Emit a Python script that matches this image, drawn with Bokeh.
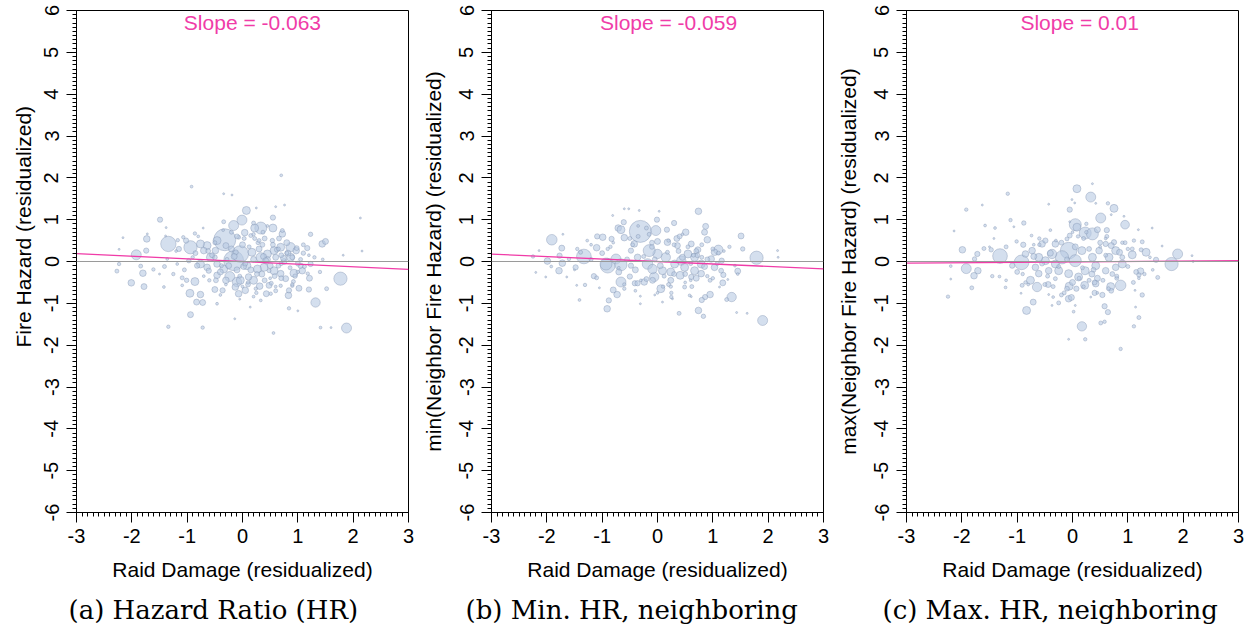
import numpy as np
from bokeh.plotting import figure
from bokeh.models import Range1d, SingleIntervalTicker, Span, Title, ColumnDataSource, PrintfTickFormatter
from bokeh.layouts import row
from bokeh.embed import file_html
from bokeh.resources import INLINE
from bokeh.core.properties import value

# ---------------- data ----------------
x_label = "Raid Damage (residualized)"
y_labels = ["Fire Hazard (residualized)",
            "min(Neighbor Fire Hazard) (residualized)",
            "max(Neighbor Fire Hazard) (residualized)"]
captions = ["(a) Hazard Ratio (HR)", "(b) Min. HR, neighboring", "(c) Max. HR, neighboring"]
slopes = [-0.063, -0.059, 0.01]
intercepts = [0.0, 0.0, -0.01]
slope_texts = ["Slope = -0.063", "Slope = -0.059", "Slope = 0.01"]
x_min, x_max = -3, 3
y_min, y_max = -6, 6

# panel (a): x, y, weight
a_x = [-1.34, -1.92, -0.94, -0.32, -0.16, -0.04, 0.07, -0.01, -0.16, 0.33, 0.22, 0.55, 0.04, -1.49, -1.73,
       -1.74, -2.01, -1.78, -1.80, -2.27, -2.23, -1.84, -0.86, -0.94, -0.72, -0.83, -0.72, -0.76, -0.95, -1.34,
       -1.01, -1.09, -1.42, -0.50, -0.36, -0.23, -0.10, -0.07, 0.05, 0.20, 0.31, 0.43, 0.48, 0.56, -0.14,
       0.83, 0.84, 0.84, 1.00, 1.02, 1.20, 1.21, 1.08, 0.93, 1.32, 1.52, 1.77, 1.88, 1.41, 1.60,
       1.44, 1.50, 1.17, 1.23, 2.13, 2.16, 1.82, 0.70, -0.92, -0.34, -0.19, 0.55, 0.76, 0.60, 0.25,
       0.72, 0.87, 0.97, 0.87, 0.69, 0.57, 0.45, 0.33, 0.17, 0.08, 0.39, 0.57, 0.27, -0.46, -0.64,
       -0.76, -0.70, -0.58, -0.76, -0.64, -0.46, -0.34, -0.49, -1.15, -1.02, -0.86, -0.34, 0.20, 0.03, -0.07,
       0.37, 0.72, 0.54, 1.23, 1.05, 0.78, 0.69, -0.13, -0.04, 0.11, -0.30, -0.46, -0.61, -0.82, -0.97,
       -1.41, -1.36, -1.61, -2.16, -2.23, -1.72, -1.38, -1.39, -0.71, -1.07, -1.17, -1.18, -1.09, 0.20, 0.24,
       0.51, 0.90, 1.18, 0.69, -0.46, 0.33, 0.14, 0.45, 0.60, 0.75, 0.50, 0.30, 0.15, 0.65, 0.90,
       1.00, 0.35, -0.20, -0.10, 0.00, 0.55, 0.80, 0.70, 0.20, -0.50, -0.25, 1.10, 0.95, 0.40,
       -0.55, -0.40, -0.28, -0.12, 0.02, 0.12, 0.26, 0.38, 0.48, 0.62, 0.74, 0.86, 0.98, 1.12, -0.48,
       -0.30, -0.05, 0.10, 0.28, 0.42, 0.58, 0.70, 0.82, 1.05, -0.62, -0.38, -0.15, 0.05, 0.22, 0.36,
       0.52, 0.66, 0.92, -0.85, -1.05, 1.30, 1.40, -1.25, 0.15, 0.60,
       -0.90, -0.70, -0.50, -0.30, -0.10, 0.10, 0.30, 0.50, 0.70, 0.90, 1.10, -0.80, -0.60, -0.40, -0.20,
       0.00, 0.20, 0.40, 0.60, 0.80, 1.00, 1.20, -1.20, -1.50, 1.45, 0.25, -0.35, 0.65, -0.05, 0.45]
a_y = [0.42, 0.16, 0.34, 0.52, 0.02, 0.18, 1.22, 0.99, 0.86, 0.80, 0.80, 0.80, 0.69, 1.00, 0.54,
       0.26, -0.51, -0.60, -0.28, -0.23, -0.06, -0.11, -0.48, -1.27, -1.58, -0.97, -0.98, -0.79, -0.76, -1.56,
       -0.45, -0.39, -0.61, -0.67, -0.69, -0.36, -0.49, -0.77, -0.69, -0.45, -0.59, -0.77, -0.57, -1.71, -1.37,
       -0.81, -0.69, -1.12, -1.18, -0.64, -0.67, -0.40, -0.22, -0.28, -0.98, -0.65, -0.41, -1.59, -1.58, -1.58,
       0.42, 0.48, 0.32, 0.65, 1.04, 0.25, 0.15, 2.06, 1.79, 1.62, 1.59, 1.05, 1.35, 1.31, 1.28,
       0.66, 0.34, 0.26, 0.10, 0.34, 0.26, 0.18, 0.10, 0.22, -0.10, -0.14, -0.22, -0.18, 0.50, 0.38,
       0.42, 0.26, 0.10, -0.06, -0.14, -0.06, -0.18, 0.26, 0.30, 0.50, 0.67, 0.95, 0.92, 0.55, 0.58,
       0.70, 0.74, 0.50, -0.06, -0.10, -0.41, -0.29, -0.61, -0.45, -0.37, -0.45, -0.33, -0.22, -0.10, 0.02,
       -0.12, 0.06, -0.19, 0.57, 0.29, 0.66, 0.81, 0.61, 0.80, 0.58, 0.51, -0.06, -0.57, -0.84, -0.65,
       -0.77, -0.58, -0.29, -0.58, -1.01, -0.93, -1.09, 0.05, 0.10, 0.00, -0.10, 0.30, -0.20, -0.10, 0.10,
       -0.05, -0.30, 0.30, -0.20, 0.40, 0.40, 0.45, -0.40, 0.05, 0.10, -0.10, 0.20, -0.35, -0.45,
       0.15, -0.25, 0.05, 0.22, -0.12, 0.35, -0.30, 0.12, -0.22, 0.28, 0.08, -0.15, 0.32, -0.12, -0.45,
       0.38, -0.35, -0.55, 0.45, 0.02, -0.35, -0.05, 0.20, 0.05, 0.25, -0.10, 0.12, -0.05, 0.55, 0.40,
       -0.52, 0.55, -0.48, 0.20, -0.20, 0.10, -0.25, -0.30, 0.62, -0.70,
       0.10, -0.35, 0.45, -0.55, 0.60, -0.50, 0.50, -0.40, 0.15, -0.55, 0.40, 0.60, -0.45, -0.80, 0.70,
       -0.60, 0.65, 0.55, -0.60, 0.20, -0.25, 0.15, 0.25, -0.30, 0.05, -0.75, 0.75, 0.30, -0.90, 0.85]
a_w = [59, 25, 44, 121, 100, 69, 16, 25, 25, 36, 16, 16, 11, 7, 11,
       7, 11, 9, 11, 4, 3, 4, 16, 9, 3, 9, 9, 11, 16, 3,
       5, 4, 2, 9, 7, 25, 22, 11, 11, 16, 11, 9, 9, 2, 1,
       11, 7, 3, 1, 9, 7, 9, 11, 16, 22, 4, 44, 25, 2, 1,
       11, 9, 7, 5, 1, 1, 1, 2, 2, 1, 1, 7, 1, 1, 1,
       11, 22, 11, 16, 16, 16, 16, 22, 16, 16, 16, 16, 16, 16, 16,
       16, 11, 16, 16, 11, 11, 16, 11, 7, 7, 3, 4, 4, 4, 4,
       4, 4, 5, 7, 7, 9, 11, 11, 16, 11, 11, 11, 7, 7, 5,
       4, 2, 3, 1, 1, 1, 1, 1, 1, 3, 3, 2, 2, 2, 3,
       3, 3, 3, 3, 2, 2, 1, 9, 9, 9, 9, 9, 9, 6, 6,
       6, 9, 9, 9, 9, 6, 9, 6, 9, 6, 9, 5, 5, 6,
       6, 9, 4, 6, 9, 4, 6, 9, 4, 6, 9, 4, 6, 4, 6,
       9, 4, 6, 4, 9, 6, 4, 9, 4, 6, 4, 9, 6, 4, 6,
       4, 6, 4, 6, 4, 3, 3, 3, 4, 4,
       3, 2, 4, 2, 6, 3, 4, 2, 6, 3, 4, 2, 3, 2, 4,
       2, 3, 6, 2, 4, 3, 2, 2, 1, 2, 3, 2, 4, 1, 2]

# panel (b)
b_x = [-1.91, -1.73, -1.77, -1.99, -1.72, -1.78, -2.25, -2.20, -2.02, -1.92, -1.60, -1.48, -1.33, -1.39, -1.10,
       -1.09, -0.99, -0.83, -0.90, -0.93, -0.75, -0.66, -1.15, -1.10, -1.31, -1.41, -0.91, -0.88, -0.73, -0.80,
       -0.66, -0.31, 0.06, -0.06, -0.24, -0.41, -0.50, -0.31, -0.03, 0.17, -0.01, 0.30, 0.51, 0.74, 0.87,
       0.90, 1.10, 1.51, 1.54, 1.79, 2.17, 2.18, 1.45, 1.34, 1.25, 1.18, 1.19, 0.95, 0.86, 0.80,
       0.74, 0.83, 0.39, 1.90, 1.43, 1.62, 0.58, 0.49, 0.41, -0.60, -0.52, -0.81, -0.61, -0.71, -0.66,
       0.03, -0.33, 0.85, 1.03, 0.97, 0.79, 0.67, 0.55, 0.43, 0.31, 0.15, 0.00, -0.15, -0.18, -0.09,
       0.09, 0.24, 0.49, 0.67, 0.79, 1.03, 1.16, -0.42, -0.48, -0.60, -0.36, -0.48, 0.18, 0.36, 0.61,
       0.73, -1.27, -1.71, -2.14, -1.64, -1.46, -1.05, -0.31, 0.09, 0.27, 0.61, 1.12, 1.27, 0.24, -0.36,
       -0.09, 0.24, 0.61,
       -0.55, -0.40, -0.25, -0.10, 0.05, 0.18, 0.30, 0.45, 0.60, 0.72, 0.85, 1.00, 1.15, -0.45, -0.20,
       0.00, 0.20, 0.38, 0.55, 0.70, 0.90, 1.08, -0.70, -0.35, -0.05, 0.12, 0.35, 0.50, 0.80, -1.00,
       -1.20, 1.30, -1.45, 0.25, 0.62, -0.15, 0.95, -0.60, 1.40, -0.85,
       -0.90, -0.70, -0.50, -0.30, -0.10, 0.10, 0.30, 0.50, 0.70, 0.90, 1.10, -0.80, -0.60, -0.40, -0.20,
       0.00, 0.20, 0.40, 0.60, 0.80, 1.00, 1.20, -1.20, -1.50, 1.45, 0.25, -0.35, 0.65, -0.05, 0.45]
b_y = [0.52, 0.32, 0.14, 0.01, -0.04, -0.22, 0.12, -0.26, -0.37, -0.12, 0.06, -0.14, 0.12, 0.22, 0.33,
       0.60, 0.58, 0.54, -0.10, -0.06, 0.06, -0.08, -0.35, -0.39, -0.56, -0.92, -1.13, -0.93, -0.79, -0.68,
       -0.49, -1.01, -0.65, -0.37, -0.49, -0.52, -0.36, 0.72, 0.74, 0.76, 1.00, 0.92, 0.70, 1.20, 0.84,
       0.52, 0.28, 0.61, 0.30, 0.09, 0.26, 0.10, -0.23, -0.85, -0.91, -0.51, -0.32, -0.79, -0.85, -0.92,
       -1.17, -1.31, -1.24, -1.41, -1.22, -1.24, -0.81, -0.61, -0.33, 1.26, 1.26, 1.10, 0.94, 0.80, 0.76,
       1.20, 1.22, 0.70, 0.22, 0.06, -0.06, 0.10, 0.18, 0.02, -0.06, 0.10, 0.18, 0.26, -0.06, -0.18,
       -0.22, -0.25, -0.14, -0.22, -0.29, -0.14, 0.02, 0.42, 0.26, 0.57, 0.10, -0.10, 0.46, 0.38, 0.42,
       0.28, 0.50, 0.65, 0.26, -0.37, -0.57, -0.63, -0.83, -0.97, -0.89, -0.84, -0.61, -0.43, -0.60, -0.52,
       -0.45, -0.45, -0.37,
       0.05, -0.20, 0.12, 0.35, -0.10, 0.22, -0.30, 0.10, -0.05, 0.15, -0.12, 0.30, -0.22, 0.40, -0.42,
       0.48, -0.55, 0.25, 0.35, -0.40, 0.05, -0.05, -0.25, 0.60, 0.05, -0.35, 0.55, -0.30, 0.40, 0.20,
       0.05, 0.35, 0.30, -0.75, -0.60, 0.65, -0.45, -0.65, -0.10, 0.35,
       0.30, -0.15, 0.55, -0.45, 0.45, -0.60, 0.40, -0.50, 0.25, -0.35, 0.20, 0.45, -0.55, -0.70, 0.80,
       -0.75, 0.50, 0.60, -0.45, 0.10, -0.40, 0.25, 0.40, -0.20, -0.30, -0.85, 0.85, 0.15, -0.80, 0.65]
b_w = [28, 9, 7, 11, 11, 11, 3, 1, 1, 2, 3, 7, 54, 4, 11,
       7, 11, 7, 54, 36, 25, 36, 7, 4, 3, 2, 11, 7, 11, 9,
       25, 1, 16, 22, 11, 7, 7, 121, 25, 7, 7, 7, 11, 11, 9,
       11, 22, 9, 5, 44, 1, 1, 9, 22, 4, 9, 7, 11, 7, 7,
       11, 5, 4, 25, 1, 1, 2, 4, 16, 1, 1, 1, 7, 11, 16,
       1, 1, 9, 11, 11, 16, 16, 16, 22, 16, 22, 22, 36, 28, 22,
       16, 16, 16, 16, 11, 11, 7, 11, 7, 11, 11, 7, 11, 9, 9,
       9, 2, 1, 1, 1, 1, 1, 1, 1, 1, 1, 1, 1, 3, 7,
       9, 9, 7,
       6, 9, 4, 6, 9, 4, 6, 9, 4, 6, 9, 4, 6, 4, 6,
       9, 4, 6, 4, 9, 6, 4, 9, 4, 6, 4, 9, 6, 4, 6,
       4, 3, 3, 3, 4, 4, 4, 3, 2, 3,
       3, 2, 4, 2, 6, 3, 4, 2, 6, 3, 4, 2, 3, 2, 4,
       2, 3, 6, 2, 4, 3, 2, 2, 1, 2, 3, 2, 4, 1, 2]

# panel (c)
c_x = [0.08, 0.33, 0.36, -1.17, -1.92, -1.63, -0.05, 0.04, -0.01, -0.43, 0.42, 0.64, 0.75, 0.51, 0.70,
       0.93, 0.95, 0.05, 0.08, 0.23, 0.36, 0.45, 0.62, -1.12, -0.88, -1.06, -1.58, -1.40, -2.14, -1.42,
       -1.60, -1.47, -1.99, -1.72, -1.77, -1.31, -1.92, -1.71, -1.78, -2.20, -2.25, -1.82, -2.20, -1.32, -1.21,
       -0.92, -0.91, -0.83, -0.71, -0.64, -0.76, -0.61, -0.44, -0.25, -0.07, -0.02, -0.06, 0.07, 0.17, 0.23,
       -0.07, 0.02, 0.51, 0.58, 0.64, 0.58, 0.87, 1.11, 1.20, 1.14, 1.26, 1.13, 0.87, 0.69, 0.54,
       0.40, 0.42, 0.22, 1.23, 1.20, 1.54, 1.79, 1.90, 1.51, 1.33, 1.24, 1.08, 1.11, 1.26, 1.19,
       1.44, 1.62, 2.16, 2.18, -0.07, -0.19, 0.05, -0.37, -0.31, -0.49, -0.61, -0.73, -0.85, -0.55, -0.31,
       0.17, 0.36, 0.48, 0.66, 0.78, 0.90, 0.78, 0.60, 0.42, 0.23, 0.11, -0.07, -0.25, -0.43, -0.67,
       -1.09, -0.49, -0.10, 0.60, 0.75, -0.31, -0.43, -0.37, 0.05, 0.33, -0.93, -0.74, -1.01, -0.89,
       -0.55, -0.40, -0.25, -0.10, 0.05, 0.18, 0.30, 0.45, 0.60, 0.72, 0.85, 1.00, 1.15, -0.45, -0.20,
       0.00, 0.20, 0.38, 0.55, 0.70, 0.90, 1.08, -0.70, -0.35, -0.05, 0.12, 0.35, 0.50, 0.80, -1.00,
       -1.20, 1.30, -1.45, 0.25, 0.62, -0.15, 0.95, -0.60, 1.40, -0.85,
       -0.90, -0.70, -0.50, -0.30, -0.10, 0.10, 0.30, 0.50, 0.70, 0.90, 1.10, -0.80, -0.60, -0.40, -0.20,
       0.00, 0.20, 0.40, 0.60, 0.80, 1.00, 1.20, -1.20, -1.50, 1.45, 0.25, -0.35, 0.65, -0.05, 0.45]
c_y = [1.74, 1.54, 1.86, 1.62, 1.24, 1.35, 1.24, 1.40, 1.48, 1.37, 1.39, 1.39, 1.27, 1.04, 1.12,
       1.08, 0.88, 0.88, 0.82, 0.68, 0.66, 0.76, 0.75, 0.99, 0.92, 0.83, 0.86, 0.80, 0.73, 0.55,
       0.31, 0.28, 0.28, 0.18, 0.06, 0.13, -0.17, -0.22, -0.34, -0.11, -0.84, -0.63, -0.42, -0.36, -0.62,
       -0.02, -0.57, -1.17, -0.97, -0.61, -0.45, -0.29, -0.55, -0.99, -0.89, -0.86, -0.59, -0.65, -1.55, -1.86,
       -1.86, -1.20, -1.47, -1.44, -1.21, -1.07, -2.09, -1.55, -1.34, -1.09, -0.80, -0.69, -0.57, -0.60, -0.80,
       -0.75, -0.53, -0.57, -0.23, -0.32, -0.38, -0.06, 0.18, 0.04, 0.22, 0.28, 0.16, 0.50, 0.47, 0.76,
       0.80, 0.37, 0.14, 0.00, 0.26, 0.10, 0.02, 0.18, -0.06, 0.02, 0.10, 0.26, 0.18, 0.42, 0.42,
       0.26, 0.10, 0.26, 0.10, 0.26, -0.06, -0.14, -0.22, -0.10, -0.22, -0.37, -0.29, -0.22, -0.22, -0.14,
       -0.10, 0.50, 0.54, 0.42, 0.46, -0.41, -0.79, -1.05, -1.05, -0.85, -0.76, 0.62, 0.48, 0.40,
       -0.05, 0.20, -0.12, 0.05, 0.35, -0.15, 0.30, -0.40, 0.15, -0.30, 0.22, -0.12, -0.25, -0.35, 0.45,
       -0.50, 0.55, -0.20, -0.45, 0.38, 0.10, 0.30, 0.12, -0.60, 0.62, -0.40, -0.30, 0.45, -0.40, -0.25,
       0.35, -0.30, -0.35, 0.70, 0.60, -0.75, 0.45, 0.55, 0.10, -0.50,
       -0.30, 0.40, -0.55, 0.50, -0.65, 0.60, -0.45, 0.35, -0.70, 0.45, -0.50, -0.55, 0.40, 0.75, -0.80,
       0.70, -0.60, -0.50, 0.55, -0.35, 0.30, -0.40, -0.45, 0.35, -0.20, 0.90, -0.85, -0.65, 0.95, -0.75]
c_w = [16, 25, 1, 3, 3, 1, 7, 1, 1, 1, 1, 3, 16, 25, 1,
       1, 19, 36, 16, 36, 36, 9, 7, 3, 5, 1, 2, 2, 1, 1,
       4, 5, 11, 7, 5, 54, 25, 11, 11, 2, 3, 4, 1, 2, 2,
       54, 4, 16, 9, 22, 16, 11, 9, 4, 11, 9, 16, 7, 22, 3,
       1, 2, 4, 3, 7, 7, 3, 3, 4, 1, 5, 1, 28, 16, 7,
       7, 11, 16, 11, 5, 4, 44, 25, 7, 16, 4, 16, 3, 4, 1,
       1, 1, 1, 1, 69, 44, 36, 22, 16, 16, 16, 11, 11, 11, 11,
       16, 16, 11, 16, 16, 16, 11, 11, 16, 16, 16, 16, 16, 11, 11,
       7, 7, 4, 7, 7, 4, 1, 1, 1, 1, 1, 2, 3, 7,
       6, 9, 4, 6, 9, 4, 6, 9, 4, 6, 9, 4, 6, 4, 6,
       9, 4, 6, 4, 9, 6, 4, 9, 4, 6, 4, 9, 6, 4, 6,
       4, 3, 3, 3, 4, 4, 4, 3, 2, 3,
       3, 2, 4, 2, 6, 3, 4, 2, 6, 3, 4, 2, 3, 2, 4,
       2, 3, 6, 2, 4, 3, 2, 2, 1, 2, 3, 2, 4, 1, 2]

panels = [(a_x, a_y, a_w), (b_x, b_y, b_w), (c_x, c_y, c_w)]
slope_text_x = [0.18, 0.2, 0.13]
caption_offsets = [-8, -26, -24]
# y-label: None = centred on the axis; number = pixel offset of the label's start above the frame bottom
y_label_offsets = [165, None, None]

# ---------------- styling ----------------
SANS = "Liberation Sans"
SERIF = "DejaVu Serif"
PINK = "#F03CA8"

figs = []
for i, (xs, ys, ws) in enumerate(panels):
    p = figure(frame_width=332, frame_height=502, output_backend="svg", toolbar_location=None,
               x_range=Range1d(x_min, x_max), y_range=Range1d(y_min, y_max),
               min_border_left=76, min_border_right=7, min_border_top=10, min_border_bottom=120)
    p.xgrid.visible = False
    p.ygrid.visible = False
    p.outline_line_color = "black"
    p.outline_line_width = 1
    p.background_fill_color = "white"
    p.border_fill_color = "white"

    src = ColumnDataSource(dict(x=xs, y=ys, s=[2.0 * np.sqrt(w) for w in ws]))
    p.scatter("x", "y", size="s", source=src, fill_color="#b8c9e2", fill_alpha=0.6,
              line_color="#7d90b0", line_alpha=0.65, line_width=0.6)

    p.add_layout(Span(location=0, dimension="width", line_color="#9a9a9a", line_width=1))

    lx = np.array([x_min, x_max], dtype=float)
    p.line(lx, intercepts[i] + slopes[i] * lx, line_color=PINK, line_width=1.3)

    p.text(x=[slope_text_x[i]], y=[5.72], text=[slope_texts[i]], text_color=PINK,
           text_font=value(SANS), text_font_size="21px", text_align="center",
           text_baseline="middle")

    for ax in (p.xaxis[0], p.yaxis[0]):
        ax.axis_line_color = "black"
        ax.major_tick_line_color = "black"
        ax.minor_tick_line_color = "black"
        ax.major_tick_in = 0
        ax.major_tick_out = 10
        ax.minor_tick_in = 0
        ax.minor_tick_out = 4
        ax.major_label_text_font = SANS
        ax.major_label_text_font_size = "20px"
        ax.major_label_text_color = "black"
        ax.axis_label_text_font = SANS
        ax.axis_label_text_font_size = "21px"
        ax.axis_label_text_font_style = "normal"
        ax.axis_label_text_color = "black"
        ax.ticker = SingleIntervalTicker(interval=1, num_minor_ticks=10)
        ax.formatter = PrintfTickFormatter(format="%d")

    p.xaxis.axis_label = x_label
    p.xaxis.major_label_standoff = 6
    p.xaxis.axis_label_standoff = 12
    p.yaxis.major_label_orientation = "vertical"
    p.yaxis.major_label_standoff = 8
    if y_label_offsets[i] is None:
        p.yaxis.axis_label = y_labels[i]
        p.yaxis.axis_label_standoff = 12
    else:
        p.add_layout(Title(text=y_labels[i], align="left", offset=y_label_offsets[i],
                           text_font=SANS, text_font_size="21px", text_font_style="normal",
                           text_color="black", standoff=14), "left")

    p.add_layout(Title(text=captions[i], align="left", offset=caption_offsets[i],
                       text_font=SERIF, text_font_size="26px", text_font_style="normal",
                       text_color="black", standoff=18), "below")
    figs.append(p)

layout = row(*figs)
open("out.html", "w").write(file_html(layout, INLINE))
